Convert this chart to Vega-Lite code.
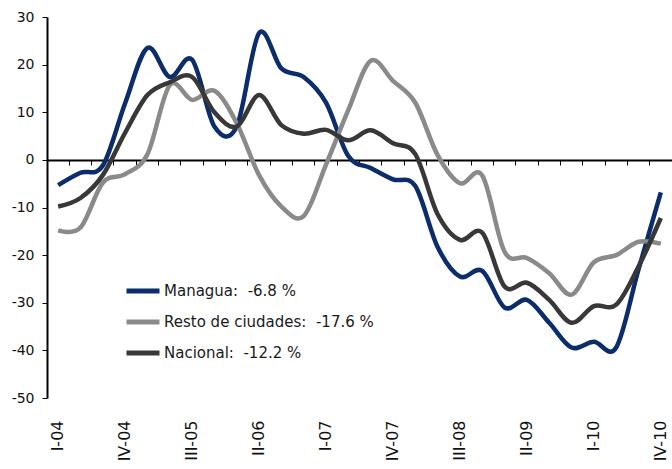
{
  "$schema": "https://vega.github.io/schema/vega-lite/v6.json",
  "width": 625,
  "height": 381,
  "autosize": {"type": "none"},
  "padding": {"left": 47, "top": 17, "right": 0, "bottom": 71},
  "background": "white",
  "config": {"view": {"stroke": null}, "font": "DejaVu Sans"},
  "data": {"values": [
    {"q": "I-04", "s": "Managua:\u00a0 -6.8 %", "v": -5.3},
    {"q": "II-04", "s": "Managua:\u00a0 -6.8 %", "v": -2.7},
    {"q": "III-04", "s": "Managua:\u00a0 -6.8 %", "v": -1.2},
    {"q": "IV-04", "s": "Managua:\u00a0 -6.8 %", "v": 11.9},
    {"q": "I-05", "s": "Managua:\u00a0 -6.8 %", "v": 23.5},
    {"q": "II-05", "s": "Managua:\u00a0 -6.8 %", "v": 17.4},
    {"q": "III-05", "s": "Managua:\u00a0 -6.8 %", "v": 21.0},
    {"q": "IV-05", "s": "Managua:\u00a0 -6.8 %", "v": 7.0},
    {"q": "I-06", "s": "Managua:\u00a0 -6.8 %", "v": 7.0},
    {"q": "II-06", "s": "Managua:\u00a0 -6.8 %", "v": 26.6},
    {"q": "III-06", "s": "Managua:\u00a0 -6.8 %", "v": 19.2},
    {"q": "IV-06", "s": "Managua:\u00a0 -6.8 %", "v": 17.4},
    {"q": "I-07", "s": "Managua:\u00a0 -6.8 %", "v": 12.0},
    {"q": "II-07", "s": "Managua:\u00a0 -6.8 %", "v": 0.8},
    {"q": "III-07", "s": "Managua:\u00a0 -6.8 %", "v": -1.7},
    {"q": "IV-07", "s": "Managua:\u00a0 -6.8 %", "v": -4.1},
    {"q": "I-08", "s": "Managua:\u00a0 -6.8 %", "v": -5.5},
    {"q": "II-08", "s": "Managua:\u00a0 -6.8 %", "v": -18.3},
    {"q": "III-08", "s": "Managua:\u00a0 -6.8 %", "v": -24.5},
    {"q": "IV-08", "s": "Managua:\u00a0 -6.8 %", "v": -23.3},
    {"q": "I-09", "s": "Managua:\u00a0 -6.8 %", "v": -31.0},
    {"q": "II-09", "s": "Managua:\u00a0 -6.8 %", "v": -29.4},
    {"q": "III-09", "s": "Managua:\u00a0 -6.8 %", "v": -34.2},
    {"q": "IV-09", "s": "Managua:\u00a0 -6.8 %", "v": -39.4},
    {"q": "I-10", "s": "Managua:\u00a0 -6.8 %", "v": -38.2},
    {"q": "II-10", "s": "Managua:\u00a0 -6.8 %", "v": -39.4},
    {"q": "III-10", "s": "Managua:\u00a0 -6.8 %", "v": -23.0},
    {"q": "IV-10", "s": "Managua:\u00a0 -6.8 %", "v": -6.8},
    {"q": "I-04", "s": "Resto de ciudades:\u00a0 -17.6 %", "v": -14.8},
    {"q": "II-04", "s": "Resto de ciudades:\u00a0 -17.6 %", "v": -14.2},
    {"q": "III-04", "s": "Resto de ciudades:\u00a0 -17.6 %", "v": -4.8},
    {"q": "IV-04", "s": "Resto de ciudades:\u00a0 -17.6 %", "v": -3.0},
    {"q": "I-05", "s": "Resto de ciudades:\u00a0 -17.6 %", "v": 1.2},
    {"q": "II-05", "s": "Resto de ciudades:\u00a0 -17.6 %", "v": 15.7},
    {"q": "III-05", "s": "Resto de ciudades:\u00a0 -17.6 %", "v": 12.6},
    {"q": "IV-05", "s": "Resto de ciudades:\u00a0 -17.6 %", "v": 14.5},
    {"q": "I-06", "s": "Resto de ciudades:\u00a0 -17.6 %", "v": 7.7},
    {"q": "II-06", "s": "Resto de ciudades:\u00a0 -17.6 %", "v": -3.2},
    {"q": "III-06", "s": "Resto de ciudades:\u00a0 -17.6 %", "v": -9.8},
    {"q": "IV-06", "s": "Resto de ciudades:\u00a0 -17.6 %", "v": -11.8},
    {"q": "I-07", "s": "Resto de ciudades:\u00a0 -17.6 %", "v": -1.0},
    {"q": "II-07", "s": "Resto de ciudades:\u00a0 -17.6 %", "v": 10.5},
    {"q": "III-07", "s": "Resto de ciudades:\u00a0 -17.6 %", "v": 20.8},
    {"q": "IV-07", "s": "Resto de ciudades:\u00a0 -17.6 %", "v": 16.6},
    {"q": "I-08", "s": "Resto de ciudades:\u00a0 -17.6 %", "v": 12.0},
    {"q": "II-08", "s": "Resto de ciudades:\u00a0 -17.6 %", "v": 1.0},
    {"q": "III-08", "s": "Resto de ciudades:\u00a0 -17.6 %", "v": -4.9},
    {"q": "IV-08", "s": "Resto de ciudades:\u00a0 -17.6 %", "v": -3.3},
    {"q": "I-09", "s": "Resto de ciudades:\u00a0 -17.6 %", "v": -19.3},
    {"q": "II-09", "s": "Resto de ciudades:\u00a0 -17.6 %", "v": -20.6},
    {"q": "III-09", "s": "Resto de ciudades:\u00a0 -17.6 %", "v": -23.8},
    {"q": "IV-09", "s": "Resto de ciudades:\u00a0 -17.6 %", "v": -28.3},
    {"q": "I-10", "s": "Resto de ciudades:\u00a0 -17.6 %", "v": -21.5},
    {"q": "II-10", "s": "Resto de ciudades:\u00a0 -17.6 %", "v": -20.0},
    {"q": "III-10", "s": "Resto de ciudades:\u00a0 -17.6 %", "v": -17.2},
    {"q": "IV-10", "s": "Resto de ciudades:\u00a0 -17.6 %", "v": -17.6},
    {"q": "I-04", "s": "Nacional:\u00a0 -12.2 %", "v": -9.8},
    {"q": "II-04", "s": "Nacional:\u00a0 -12.2 %", "v": -8.0},
    {"q": "III-04", "s": "Nacional:\u00a0 -12.2 %", "v": -3.2},
    {"q": "IV-04", "s": "Nacional:\u00a0 -12.2 %", "v": 5.7},
    {"q": "I-05", "s": "Nacional:\u00a0 -12.2 %", "v": 13.6},
    {"q": "II-05", "s": "Nacional:\u00a0 -12.2 %", "v": 16.3},
    {"q": "III-05", "s": "Nacional:\u00a0 -12.2 %", "v": 17.4},
    {"q": "IV-05", "s": "Nacional:\u00a0 -12.2 %", "v": 10.0},
    {"q": "I-06", "s": "Nacional:\u00a0 -12.2 %", "v": 7.0},
    {"q": "II-06", "s": "Nacional:\u00a0 -12.2 %", "v": 13.6},
    {"q": "III-06", "s": "Nacional:\u00a0 -12.2 %", "v": 7.3},
    {"q": "IV-06", "s": "Nacional:\u00a0 -12.2 %", "v": 5.5},
    {"q": "I-07", "s": "Nacional:\u00a0 -12.2 %", "v": 6.3},
    {"q": "II-07", "s": "Nacional:\u00a0 -12.2 %", "v": 4.1},
    {"q": "III-07", "s": "Nacional:\u00a0 -12.2 %", "v": 6.2},
    {"q": "IV-07", "s": "Nacional:\u00a0 -12.2 %", "v": 3.5},
    {"q": "I-08", "s": "Nacional:\u00a0 -12.2 %", "v": 1.2},
    {"q": "II-08", "s": "Nacional:\u00a0 -12.2 %", "v": -11.4},
    {"q": "III-08", "s": "Nacional:\u00a0 -12.2 %", "v": -16.8},
    {"q": "IV-08", "s": "Nacional:\u00a0 -12.2 %", "v": -15.3},
    {"q": "I-09", "s": "Nacional:\u00a0 -12.2 %", "v": -26.6},
    {"q": "II-09", "s": "Nacional:\u00a0 -12.2 %", "v": -25.8},
    {"q": "III-09", "s": "Nacional:\u00a0 -12.2 %", "v": -29.4},
    {"q": "IV-09", "s": "Nacional:\u00a0 -12.2 %", "v": -34.2},
    {"q": "I-10", "s": "Nacional:\u00a0 -12.2 %", "v": -30.7},
    {"q": "II-10", "s": "Nacional:\u00a0 -12.2 %", "v": -30.4},
    {"q": "III-10", "s": "Nacional:\u00a0 -12.2 %", "v": -22.4},
    {"q": "IV-10", "s": "Nacional:\u00a0 -12.2 %", "v": -12.2}
  ]},
  "layer": [
    {
      "mark": {"type": "line", "opacity": 0},
      "encoding": {
        "x": {
          "field": "q", "type": "ordinal", "sort": null,
          "scale": {"type": "band", "paddingInner": 0, "paddingOuter": 0},
          "axis": {
            "orient": "bottom", "offset": -238, "labels": false, "title": null,
            "bandPosition": 0, "domainColor": "#000000", "domainWidth": 2,
            "tickColor": "#000000", "tickSize": 5, "tickWidth": 1, "grid": false
          }
        },
        "y": {
          "field": "v", "type": "quantitative", "scale": {"domain": [-50, 30], "nice": false, "zero": false},
          "axis": {
            "title": null, "grid": false, "values": [-50, -40, -30, -20, -10, 0, 10, 20, 30],
            "labelExpr": "datum.value + ''",
            "domainColor": "#000000", "domainWidth": 2, "tickColor": "#000000", "tickSize": 5,
            "labelFont": "DejaVu Sans", "labelFontSize": 14, "labelColor": "#111111", "labelPadding": 8
          }
        },
        "detail": {"field": "s"}
      }
    },
    {
      "mark": {"type": "line", "interpolate": "cardinal", "strokeWidth": 4.5},
      "encoding": {
        "x": {
          "field": "q", "type": "ordinal", "sort": null,
          "axis": {
            "orient": "bottom", "title": null, "grid": false, "domain": false,
            "ticks": false, "tickSize": 0, "labelAngle": 270, "labelPadding": 22,
            "labelFont": "DejaVu Sans", "labelFontSize": 16, "labelColor": "#111111",
            "values": ["I-04", "IV-04", "III-05", "II-06", "I-07", "IV-07", "III-08", "II-09", "I-10", "IV-10"]
          }
        },
        "y": {
          "field": "v", "type": "quantitative",
          "axis": {
            "title": null, "grid": false, "values": [-50, -40, -30, -20, -10, 0, 10, 20, 30],
            "labelExpr": "datum.value + ''",
            "domainColor": "#000000", "domainWidth": 2, "tickColor": "#000000", "tickSize": 5,
            "labelFont": "DejaVu Sans", "labelFontSize": 14, "labelColor": "#111111", "labelPadding": 8
          }
        },
        "color": {
          "field": "s", "type": "nominal",
          "scale": {
            "domain": ["Managua:\u00a0 -6.8 %", "Resto de ciudades:\u00a0 -17.6 %", "Nacional:\u00a0 -12.2 %"],
            "range": ["#0b2d6b", "#8a8a8a", "#383838"]
          },
          "legend": {
            "orient": "none", "legendX": 77, "legendY": 255, "title": null,
            "symbolType": "stroke", "symbolSize": 1089, "symbolStrokeWidth": 5,
            "labelFont": "DejaVu Sans", "labelFontSize": 15, "labelColor": "#1a1a1a",
            "labelOffset": 2, "rowPadding": 2, "padding": 0, "labelLimit": 400
          }
        }
      }
    }
  ],
  "resolve": {"axis": {"x": "independent"}}
}
